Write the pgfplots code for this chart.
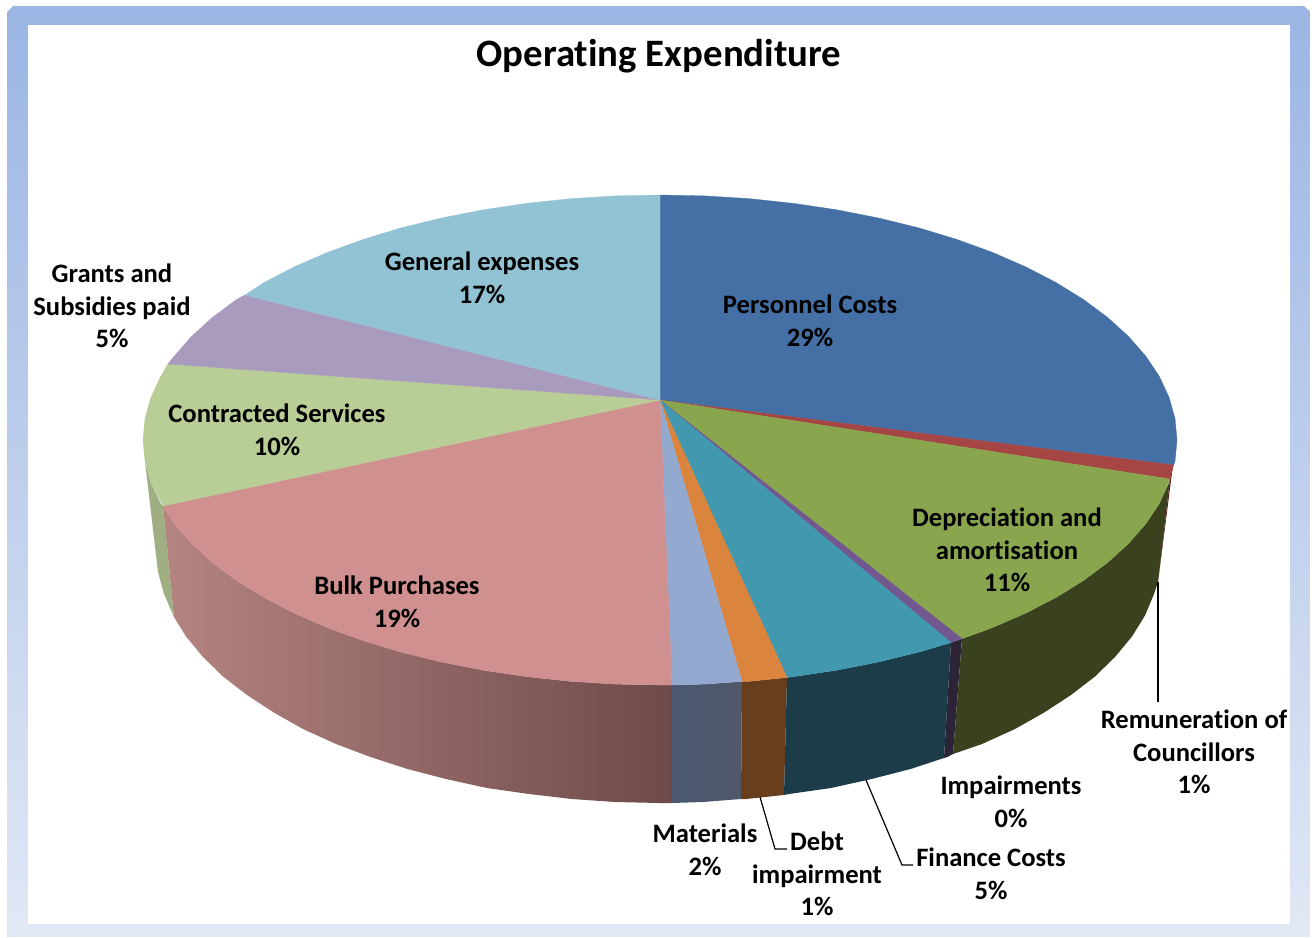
\documentclass[border=0pt]{standalone}
\usepackage{pgfplots}
\pgfplotsset{compat=1.18}
\usepackage{fontspec}
\setmainfont[Ligatures=NoCommon]{Carlito}
\definecolor{cPers}{RGB}{69,112,166}
\definecolor{cRem}{RGB}{165,70,68}
\definecolor{cDep}{RGB}{137,165,78}
\definecolor{cImp}{RGB}{113,88,143}
\definecolor{cFin}{RGB}{65,152,175}
\definecolor{cDebt}{RGB}{219,132,61}
\definecolor{cMat}{RGB}{147,169,207}
\definecolor{cBulk}{RGB}{207,144,143}
\definecolor{cCon}{RGB}{185,205,150}
\definecolor{cGra}{RGB}{169,155,189}
\definecolor{cGen}{RGB}{145,195,213}
\tikzset{lab/.style={font=\fontsize{26.6}{32.6}\selectfont\bfseries,align=center,inner sep=0pt,text=black}}
\begin{document}
\begin{tikzpicture}
\begin{axis}[width=1314pt,height=937pt,scale only axis,xmin=0,xmax=1314,ymin=0,ymax=937,y dir=reverse,hide axis,no markers]
% page and frame
\addplot[draw=none,fill=white] coordinates {(0,0)(1314,0)(1314,937)(0,937)} -- cycle;
\addplot[draw=none,top color={rgb,255:red,155;green,181;blue,228},bottom color={rgb,255:red,225;green,232;blue,245}] coordinates {(13,6)(1304,6)(1310.5,12)(1310.5,937)(7,937)(7,12)} -- cycle;
\addplot[draw=none,fill=white] coordinates {(28,25)(1289.5,25)(1289.5,924)(28,924)} -- cycle;
% sides
\addplot[draw=none,fill={rgb,255:red,160;green,175;blue,130}] coordinates {(163,506)(160.6,503.4)(150.9,482.5)(145,461.4)(158,572)(164,594)(174,617)} -- cycle;
\addplot[draw=none,left color={rgb,255:red,180;green,132;blue,128},right color={rgb,255:red,110;green,74;blue,74}] coordinates {(163,506)(174.2,523.8)(191.4,543.5)(212.3,562.5)(236.5,580.5)(264,597.5)(294.4,613.2)(327.7,627.7)(363.5,640.7)(401.5,652.2)(441.5,662)(483.2,670.2)(526.2,676.6)(570.2,681.3)(614.9,684.1)(660,685)(672,685)(672,803)(659,803)(615,802)(572,799)(529,794)(487,788)(446,779)(407.5,769)(370.5,757)(336,744)(303,729)(274,712.6)(247,695)(223,676.5)(203,657)(186,636.5)(174,617)} -- cycle;
\addplot[draw=none,left color={rgb,255:red,74;green,88;blue,115},right color={rgb,255:red,80;green,88;blue,104}] coordinates {(672,685)(705.1,684.1)(742,681.5)(741,799)(703,802)(672,803)} -- cycle;
\addplot[draw=none,fill={rgb,255:red,105;green,62;blue,28}] coordinates {(742,681.5)(749.8,681.3)(787,677.5)(784,795)(746,799)(741,799)} -- cycle;
\addplot[draw=none,fill={rgb,255:red,27;green,60;blue,72}] coordinates {(787,677.5)(793.8,676.6)(836.8,670.2)(878.5,662)(918.5,652.2)(951,642.6)(944,758)(910.5,769)(871.6,779)(831,788)(789,794)(784,795)} -- cycle;
\addplot[draw=none,fill={rgb,255:red,45;green,35;blue,55}] coordinates {(951,642.6)(956.5,640.7)(962,638.7)(953,754)(947.5,757)(944,758)} -- cycle;
\addplot[draw=none,fill={rgb,255:red,57;green,65;blue,30}] coordinates {(962,638.7)(992.3,627.7)(1025.6,613.2)(1056,597.5)(1083.5,580.5)(1107.7,562.5)(1128.6,543.5)(1145.8,523.8)(1159.4,503.4)(1169.1,482.5)(1170,479)(1158,582)(1154,594)(1145,615.5)(1132,636.5)(1115,657)(1095,676.5)(1071,695)(1044,712.6)(1015,729)(982,744)(953,754)} -- cycle;
\addplot[draw=none,fill={rgb,255:red,90;green,30;blue,32}] coordinates {(1170,479)(1173,465)(1158,582)} -- cycle;
% top faces
\addplot[cPers,fill=cPers,line width=.3pt] coordinates {(660,400)(660,195)(705.1,195.9)(749.8,198.7)(793.8,203.4)(836.8,209.8)(878.5,218)(918.5,227.8)(956.5,239.3)(992.3,252.3)(1025.6,266.8)(1056,282.5)(1083.5,299.5)(1107.7,317.5)(1128.6,336.5)(1145.8,356.2)(1159.4,376.6)(1169.1,397.5)(1175,418.6)(1177,440)(1175,461.4)(1173.5,465)} -- cycle;
\addplot[cRem,fill=cRem,line width=.3pt] coordinates {(660,400)(1173.5,465)(1170,479)} -- cycle;
\addplot[cDep,fill=cDep,line width=.3pt] coordinates {(660,400)(1170,479)(1159.4,503.4)(1145.8,523.8)(1128.6,543.5)(1107.7,562.5)(1083.5,580.5)(1056,597.5)(1025.6,613.2)(992.3,627.7)(962,638.7)} -- cycle;
\addplot[cImp,fill=cImp,line width=.3pt] coordinates {(660,400)(962,638.7)(956.5,640.7)(951,642.6)} -- cycle;
\addplot[cFin,fill=cFin,line width=.3pt] coordinates {(660,400)(951,642.6)(918.5,652.2)(878.5,662)(836.8,670.2)(793.8,676.6)(787,677.5)} -- cycle;
\addplot[cDebt,fill=cDebt,line width=.3pt] coordinates {(660,400)(787,677.5)(749.8,681.3)(742,681.5)} -- cycle;
\addplot[cMat,fill=cMat,line width=.3pt] coordinates {(660,400)(742,681.5)(705.1,684.1)(672,685)} -- cycle;
\addplot[cBulk,fill=cBulk,line width=.3pt] coordinates {(660,400)(672,685)(660,685)(614.9,684.1)(570.2,681.3)(526.2,676.6)(483.2,670.2)(441.5,662)(401.5,652.2)(363.5,640.7)(327.7,627.7)(294.4,613.2)(264,597.5)(236.5,580.5)(212.3,562.5)(191.4,543.5)(174.2,523.8)(163,506)} -- cycle;
\addplot[cCon,fill=cCon,line width=.3pt] coordinates {(660,400)(163,506)(150.9,482.5)(145,461.4)(143,440)(145,418.6)(150.9,397.5)(160.6,376.6)(168,364)} -- cycle;
\addplot[cGra,fill=cGra,line width=.3pt] coordinates {(660,400)(168,364)(174.2,356.2)(191.4,336.5)(212.3,317.5)(236.5,299.5)(245,295)} -- cycle;
\addplot[cGen,fill=cGen,line width=.3pt] coordinates {(660,400)(245,295)(264,282.5)(294.4,266.8)(327.7,252.3)(363.5,239.3)(401.5,227.8)(441.5,218)(483.2,209.8)(526.2,203.4)(570.2,198.7)(614.9,195.9)(660,195)} -- cycle;
% leader lines
\addplot[black,line width=1.2pt] coordinates {(1158,582)(1158,702)};
\addplot[black,line width=1.2pt] coordinates {(760,797)(775,849)(787,849)};
\addplot[black,line width=1.2pt] coordinates {(866,780)(902,865)(913,865)};
% labels
\node[font=\fontsize{38.8}{42}\selectfont\bfseries,inner sep=0pt] at (axis cs:659,56) {Operating Expenditure};
\node[lab] at (axis cs:810,321) {Personnel Costs\\29\%};
\node[lab] at (axis cs:1194,752) {Remuneration of\\Councillors\\1\%};
\node[lab] at (axis cs:1007,550) {Depreciation and\\amortisation\\11\%};
\node[lab] at (axis cs:1011,802) {Impairments\\0\%};
\node[lab] at (axis cs:991,874) {Finance Costs\\5\%};
\node[lab] at (axis cs:817,874) {Debt\\impairment\\1\%};
\node[lab] at (axis cs:705,850) {Materials\\2\%};
\node[lab] at (axis cs:397,602) {Bulk Purchases\\19\%};
\node[lab] at (axis cs:277,430) {Contracted Services\\10\%};
\node[lab] at (axis cs:112,306) {Grants and\\Subsidies paid\\5\%};
\node[lab] at (axis cs:482,278) {General expenses\\17\%};
\end{axis}
\end{tikzpicture}
\end{document}
